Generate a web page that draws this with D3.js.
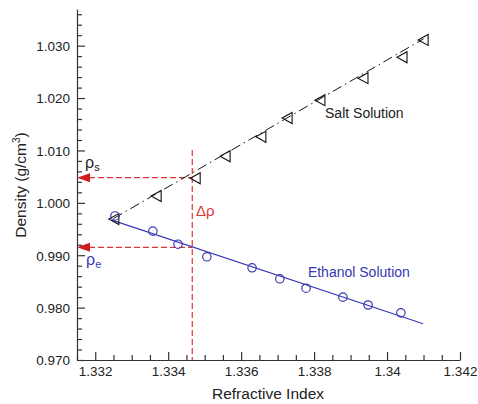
<!DOCTYPE html>
<html>
<head>
<meta charset="utf-8">
<script src="https://cdn.jsdelivr.net/npm/d3@7"></script>
<style>
body { margin: 0; background: #fff; }
svg { font-family: "Liberation Sans", Arial, sans-serif; }
</style>
</head>
<body>
<svg id="chart" width="478" height="404"></svg>
<script>
// salt solution (triangles) and ethanol solution (circles)
var saltX = [1.33251, 1.33367, 1.33474, 1.33556, 1.33654, 1.33726, 1.33816, 1.33934, 1.34041, 1.34099];
var saltY = [0.9969, 1.0013, 1.0047, 1.0089, 1.0126, 1.0162, 1.0196, 1.0238, 1.0278, 1.0311];
var ethX = [1.33254, 1.33358, 1.33427, 1.33506, 1.33630, 1.33706, 1.33778, 1.33879, 1.33948, 1.34038];
var ethY = [0.9975, 0.9946, 0.9921, 0.9897, 0.9876, 0.9855, 0.9837, 0.9820, 0.9805, 0.9790];
// fitted lines (start, end)
var saltFitX = [1.3325, 1.3410], saltFitY = [0.9970, 1.0313];
var ethFitX = [1.33246, 1.34099], ethFitY = [0.9967, 0.9769];
// reading lines
var rhoS = 1.0048, rhoE = 0.9915, cutX = 1.33466, cutTop = 1.0101;

var xTicks = [1.332, 1.334, 1.336, 1.338, 1.34, 1.342];
var yTicks = [0.970, 0.980, 0.990, 1.000, 1.010, 1.020, 1.030];

var svg = d3.select("#chart");
var x = d3.scaleLinear().domain([1.3315, 1.342]).range([77, 460]);
var y = d3.scaleLinear().domain([0.970, 1.037]).range([360, 9]);

var axisCol = "#333";
var red = "#e03535";
var blue = "#3838b4";

// minor ticks
var xMinor = d3.range(1.3315, 1.34201, 0.0005).filter(function(v){ return xTicks.every(function(t){ return Math.abs(t - v) > 1e-6; }); });
var yMinor = d3.range(0.970, 1.0371, 0.002).filter(function(v){ return yTicks.every(function(t){ return Math.abs(t - v) > 1e-6; }); });

var gx = svg.append("g").attr("transform", "translate(0,360)")
	.call(d3.axisBottom(x).tickValues(xTicks).tickSizeInner(-8).tickSizeOuter(0).tickPadding(6)
		.tickFormat(function(d){ return d3.format(".4~f")(d); }));
var gxm = svg.append("g").attr("transform", "translate(0,360)")
	.call(d3.axisBottom(x).tickValues(xMinor).tickSize(-5).tickFormat(""));
gxm.select(".domain").remove();
var gy = svg.append("g").attr("transform", "translate(77,0)")
	.call(d3.axisLeft(y).tickValues(yTicks).tickSizeInner(-8).tickSizeOuter(0).tickPadding(7)
		.tickFormat(d3.format(".3f")));
var gym = svg.append("g").attr("transform", "translate(77,0)")
	.call(d3.axisLeft(y).tickValues(yMinor).tickSize(-5).tickFormat(""));
gym.select(".domain").remove();

svg.selectAll(".domain, .tick line").attr("stroke", axisCol).attr("stroke-width", 1.2);
svg.selectAll(".tick text").attr("fill", "#222").style("font-size", "13.5px")
	.style("font-family", "'Liberation Sans', Arial, sans-serif");
gy.selectAll(".tick text").attr("dy", "0.36em");

// axis titles
svg.append("text").attr("x", 268).attr("y", 399).attr("text-anchor", "middle")
	.style("font-size", "15.5px").attr("fill", "#222").text("Refractive Index");
svg.append("text").attr("transform", "translate(26,185) rotate(-90)").attr("text-anchor", "middle")
	.style("font-size", "15.5px").attr("fill", "#222")
	.html("Density (g/cm<tspan dy='-6' font-size='10px'>3</tspan><tspan dy='6'>)</tspan>");

// red reading lines
svg.append("line").attr("x1", x(cutX)).attr("x2", x(cutX)).attr("y1", y(cutTop)).attr("y2", y(0.970))
	.attr("stroke", red).attr("stroke-width", 1.2).attr("stroke-dasharray", "6,3");
[rhoS, rhoE].forEach(function(v){
	svg.append("line").attr("x1", x(1.3315) + 12).attr("x2", x(cutX)).attr("y1", y(v)).attr("y2", y(v))
		.attr("stroke", red).attr("stroke-width", 1.2).attr("stroke-dasharray", "6,3");
	svg.append("path")
		.attr("d", "M" + x(1.3315) + "," + y(v) + "l13,-4.5l0,9z")
		.attr("fill", "#d21c1c");
});

// fitted lines
svg.append("line").attr("x1", x(saltFitX[0])).attr("y1", y(saltFitY[0]))
	.attr("x2", x(saltFitX[1])).attr("y2", y(saltFitY[1]))
	.attr("stroke", "#111").attr("stroke-width", 1).attr("stroke-dasharray", "10,4,1.5,4");
svg.append("line").attr("x1", x(ethFitX[0])).attr("y1", y(ethFitY[0]))
	.attr("x2", x(ethFitX[1])).attr("y2", y(ethFitY[1]))
	.attr("stroke", blue).attr("stroke-width", 1.1);

// markers
svg.append("g").selectAll("path").data(saltX).enter().append("path")
	.attr("transform", function(d, i){ return "translate(" + x(d) + "," + y(saltY[i]) + ")"; })
	.attr("d", "M-5,0L5,-5.5L5,5.5Z")
	.attr("fill", "none").attr("stroke", "#111").attr("stroke-width", 1.1);
svg.append("g").selectAll("circle").data(ethX).enter().append("circle")
	.attr("cx", function(d){ return x(d); })
	.attr("cy", function(d, i){ return y(ethY[i]); })
	.attr("r", 4.2)
	.attr("fill", "none").attr("stroke", blue).attr("stroke-width", 1.2);

// labels
svg.append("text").attr("x", x(1.3383)).attr("y", y(1.0162)).style("font-size", "14px")
	.attr("fill", "#222").text("Salt Solution");
svg.append("text").attr("x", x(1.33783)).attr("y", y(0.9858)).style("font-size", "14px")
	.attr("fill", blue).text("Ethanol Solution");
svg.append("text").attr("x", x(1.33172)).attr("y", y(1.00664)).style("font-size", "16px")
	.attr("fill", "#222").html("ρ<tspan dy='3' font-size='11px'>s</tspan>");
svg.append("text").attr("x", x(1.33175)).attr("y", y(0.98813)).style("font-size", "16px")
	.attr("fill", blue).html("ρ<tspan dy='3' font-size='11px'>e</tspan>");
svg.append("text").attr("x", x(1.33476)).attr("y", y(0.99748)).style("font-size", "15px")
	.attr("fill", red).text("Δρ");
</script>
</body>
</html>
